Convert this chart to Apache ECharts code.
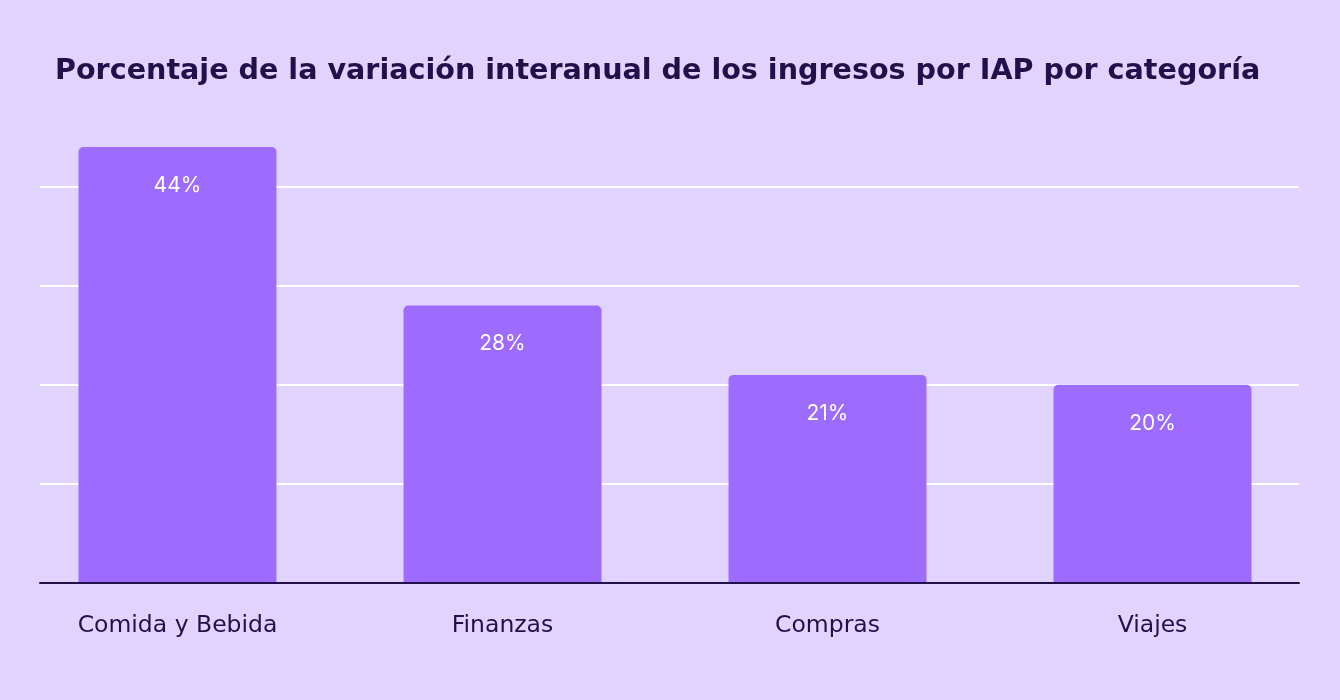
<!DOCTYPE html>
<html>
<head>
<meta charset="utf-8">
<script src="https://cdn.jsdelivr.net/npm/echarts@6.0.0/dist/echarts.min.js"></script>
<style>
  html, body { margin: 0; padding: 0; background: #E0D3FE; }
  #chart { width: 1340px; height: 700px; }
</style>
</head>
<body>
<div id="chart"></div>
<script>
// Datos del gráfico
const categories = ['Comida y Bebida', 'Finanzas', 'Compras', 'Viajes']
const values = [44, 28, 21, 20]
const yMax = 44
const yInterval = 10

const chart = echarts.init(document.getElementById('chart'))

chart.setOption({
    backgroundColor: '#E0D3FE',
    textStyle: { fontFamily: 'DejaVu Sans' },
    title: {
        text: 'Porcentaje de la variación interanual de los ingresos por IAP por categoría',
        left: 50,
        top: 52,
        textStyle: { fontSize: 28.6, fontWeight: 700, color: '#22104A', fontFamily: 'DejaVu Sans' }
    },
    grid: [
        // barras
        { left: 15, right: 25, top: 147, bottom: 117 },
        // líneas de fondo y eje
        { left: 40, right: 41, top: 147, bottom: 117 }
    ],
    xAxis: [
        {
            type: 'category',
            gridIndex: 0,
            data: categories,
            axisLine: { show: false },
            axisTick: { show: false },
            axisLabel: { color: '#22104A', fontSize: 23.5, fontFamily: 'DejaVu Sans', margin: 31 }
        },
        {
            type: 'category',
            gridIndex: 1,
            data: categories,
            z: 5,
            axisLine: { lineStyle: { color: '#22104A', width: 2 } },
            axisTick: { show: false },
            axisLabel: { show: false }
        }
    ],
    yAxis: [
        { type: 'value', gridIndex: 0, min: 0, max: yMax, interval: yInterval, show: false },
        {
            type: 'value',
            gridIndex: 1,
            min: 0,
            max: yMax,
            interval: yInterval,
            axisLine: { show: false },
            axisTick: { show: false },
            axisLabel: { show: false },
            splitLine: { showMinLine: false, showMaxLine: false, lineStyle: { color: '#FFFFFF', width: 2 } }
        }
    ],
    series: [
        {
            type: 'bar',
            xAxisIndex: 0,
            yAxisIndex: 0,
            data: values,
            barWidth: 198,
            z: 3,
            itemStyle: { color: '#9D6CFF', borderRadius: [5, 5, 0, 0] },
            label: {
                show: true,
                position: 'insideTop',
                distance: 28,
                formatter: '{c}%',
                color: '#FFFFFF',
                fontSize: 21,
                fontFamily: 'Inter'
            }
        }
    ]
})
</script>
</body>
</html>
